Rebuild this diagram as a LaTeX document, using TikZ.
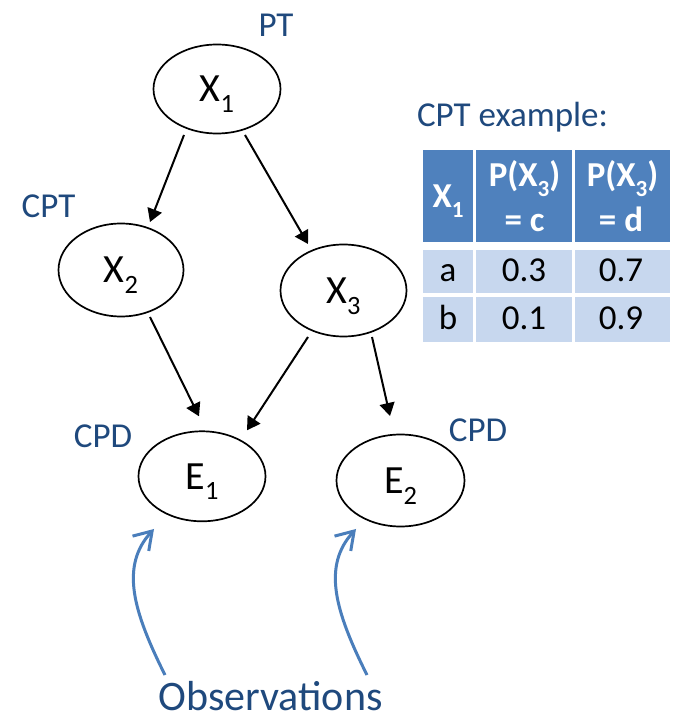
\documentclass[tikz,border=0pt]{standalone}
\usepackage{fontspec}
\setmainfont{Carlito}
\usepackage{graphicx}
\usetikzlibrary{shapes.geometric,arrows.meta,calc}

\definecolor{labelblue}{HTML}{1F497D}
\definecolor{arrowblue}{HTML}{4A7EBB}
\definecolor{headblue}{HTML}{4F81BD}
\definecolor{cellblue}{HTML}{C7D7EE}

% lowered, reduced index in the running text font
\newcommand{\sbs}[1]{\raisebox{-0.27em}{\scalebox{0.66}{#1}}}

\begin{document}
\begin{tikzpicture}[x=1pt,y=1pt,
  rv/.style={ellipse, draw, line width=1.7pt, inner sep=0pt, text depth=0pt,
    font=\fontsize{40}{48}\selectfont},
  tag/.style={text=labelblue, anchor=base, inner sep=0pt,
    font=\fontsize{35}{42}\selectfont},
  link/.style={-{Triangle[length=13pt,width=15pt]}, line width=2pt},
  obsarrow/.style={-{Straight Barb[length=17pt,width=22pt]}, line width=3pt,
    draw=arrowblue},
  hd/.style={text=white, anchor=base, inner sep=0pt,
    font=\fontsize{35}{42}\selectfont\bfseries},
  cell/.style={anchor=base, inner sep=0pt, font=\fontsize{35}{42}\selectfont}]

\useasboundingbox (0,0) rectangle (673,716);
\fill[white] (0,0) rectangle (673,716);

% network variables
\node[rv, minimum width=127pt, minimum height=89pt] (X1) at (217,627) {X\sbs{1}};
\node[rv, minimum width=125pt, minimum height=93pt] (X2) at (121,446) {X\sbs{2}};
\node[rv, minimum width=126pt, minimum height=92pt] (X3) at (343.5,425.5) {X\sbs{3}};
\node[rv, minimum width=127pt, minimum height=90pt] (E1) at (202,239.7) {E\sbs{1}};
\node[rv, minimum width=128pt, minimum height=92pt] (E2) at (400.5,235.5) {E\sbs{2}};

% dependencies
\draw[link] ($(X1.center)+(-33,-46)$) -- ($(X2.center)+(29,48)$);
\draw[link] ($(X1.center)+(28,-46)$) -- ($(X3.center)+(-35.5,46.5)$);
\draw[link] ($(X2.center)+(29,-47)$) -- ($(E1.center)+(-3,60)$);
\draw[link] ($(X3.center)+(-35.5,-46.5)$) -- ($(E1.center)+(45,46)$);
\draw[link] ($(X3.center)+(28.5,-46.5)$) -- ($(E2.center)+(-10.5,64.5)$);

% distribution tags
\node[tag] (ptlab) at (276,679) {PT};
\node[tag] (cptlab) at (48.5,498) {CPT};
\node[tag] (cpdleft) at (103,268) {CPD};
\node[tag] (cpdright) at (478,274) {CPD};
\node[tag] (cpttitle) at (512.5,589) {CPT example:};

% evidence
\node[tag, font=\fontsize{42}{50}\selectfont] (obs) at (270.5,5.5) {Observations};
\coordinate (obsL) at (165,41);
\coordinate (obsR) at (367,41);
\draw[obsarrow] (obsL) .. controls (133,105) and (120,150) .. ($(E1.center)+(-48,-52.7)$);
\draw[obsarrow] (obsR) .. controls (335,105) and (322,150) .. ($(E2.center)+(-44.5,-48.5)$);

% conditional probability table
\fill[headblue] (423,474) rectangle (473,566);
\fill[headblue] (476,474) rectangle (572,566);
\fill[headblue] (575,474) rectangle (670,566);
\fill[cellblue] (423,423) rectangle (473,466);
\fill[cellblue] (476,423) rectangle (572,466);
\fill[cellblue] (575,423) rectangle (670,466);
\fill[cellblue] (423,374) rectangle (473,419);
\fill[cellblue] (476,374) rectangle (572,419);
\fill[cellblue] (575,374) rectangle (670,419);

\node[hd] (hx) at (448,508) {X\sbs{1}};
\node[hd] (hc1) at (524.5,529) {P(X\sbs{3})};
\node[hd] (hc2) at (524.5,484) {= c};
\node[hd] (hd1) at (622.5,529) {P(X\sbs{3})};
\node[hd] (hd2) at (621,484) {= d};

\node[cell] (ra) at (448,434) {a};
\node[cell] (ra3) at (524,434) {0.3};
\node[cell] (ra7) at (621,434) {0.7};
\node[cell] (rb) at (448,386) {b};
\node[cell] (rb1) at (524,386) {0.1};
\node[cell] (rb9) at (621,386) {0.9};
\end{tikzpicture}
\end{document}
